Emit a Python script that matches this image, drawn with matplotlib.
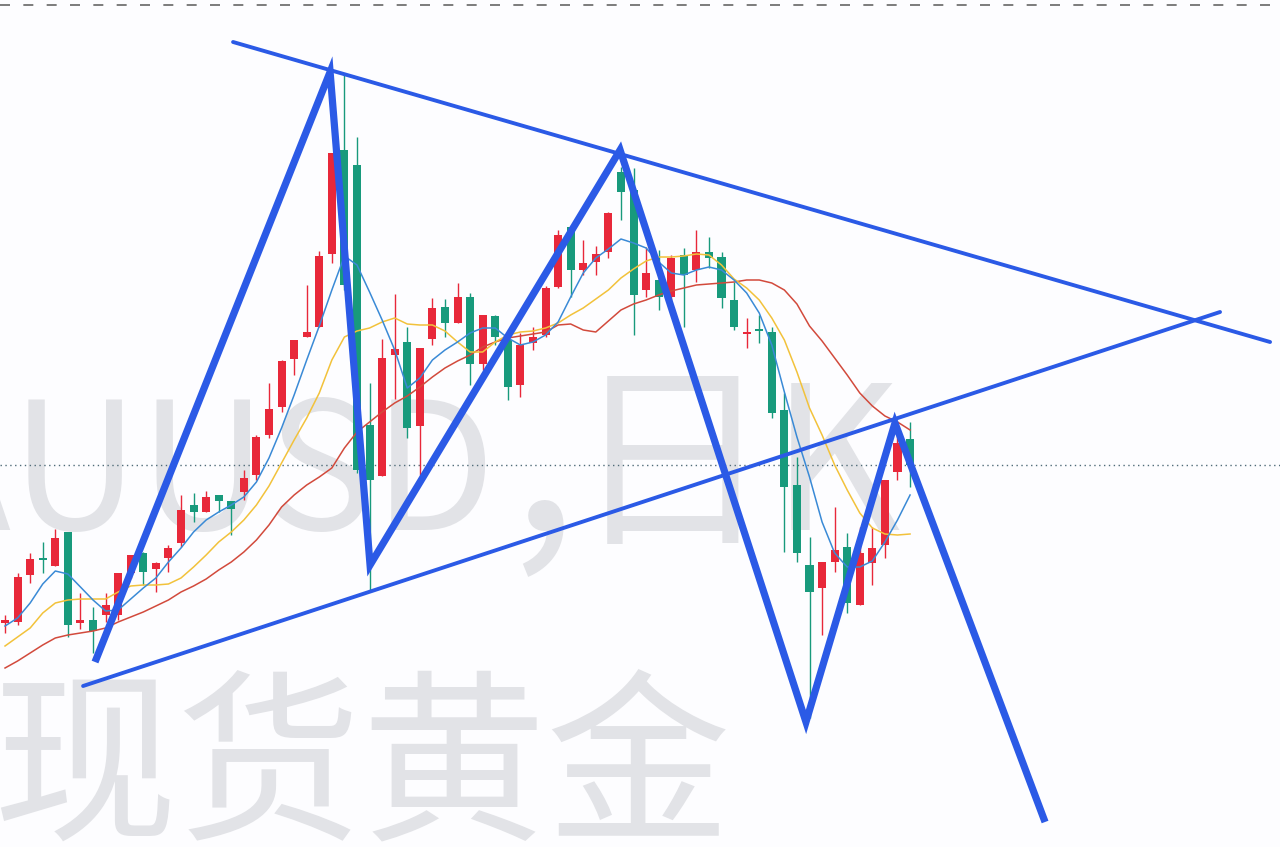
import matplotlib
matplotlib.use("Agg")
import matplotlib.pyplot as plt
import numpy as np

# ---------------- data (daily candles, price levels) ----------------
opens = [224, 225, 272, 289, 281, 315, 224, 227, 232, 232, 274, 294, 278, 289, 304, 342, 335, 352, 346, 355,
         372, 412, 440, 488, 510, 520, 593, 697, 682, 422, 371, 492, 505, 421, 508, 540, 524, 550, 483, 531,
         507, 462, 504, 512, 560, 620, 577, 585, 595, 675, 657, 557, 567, 550, 592, 577, 595, 590, 547, 513,
         518, 515, 437, 362, 282, 259, 285, 300, 242, 284, 302, 375, 408]
highs = [232, 274, 294, 305, 318, 315, 254, 240, 254, 274, 292, 295, 285, 302, 352, 354, 356, 352, 346, 377,
         412, 464, 487, 507, 562, 596, 694, 772, 710, 464, 508, 553, 520, 499, 549, 548, 564, 554, 532, 532,
         512, 514, 520, 561, 617, 622, 607, 601, 635, 680, 679, 600, 597, 592, 599, 617, 610, 595, 565, 529,
         532, 520, 454, 390, 310, 285, 340, 314, 320, 320, 367, 425, 425]
lows = [214, 222, 264, 274, 281, 210, 218, 194, 225, 227, 269, 262, 255, 275, 300, 325, 335, 335, 312, 347,
        367, 409, 435, 472, 510, 520, 584, 557, 374, 257, 371, 448, 409, 372, 502, 510, 524, 462, 477, 502,
        447, 450, 497, 510, 559, 550, 572, 572, 589, 627, 512, 550, 537, 547, 520, 565, 579, 539, 517, 499,
        504, 429, 295, 285, 129, 212, 275, 234, 242, 262, 289, 367, 360]
closes = [227, 270, 288, 287, 309, 222, 227, 216, 242, 274, 292, 275, 284, 299, 337, 335, 350, 346, 338, 369,
          410, 438, 486, 507, 515, 591, 694, 562, 377, 367, 489, 498, 419, 499, 539, 524, 550, 483, 532, 510,
          460, 502, 510, 559, 612, 577, 584, 593, 634, 655, 552, 574, 550, 589, 572, 595, 589, 549, 520, 515,
          516, 434, 360, 294, 255, 285, 297, 244, 294, 299, 367, 404, 382]

# moving averages (short / medium / long)
ma_short = [221, 229, 244, 263, 276, 273, 260, 247, 236, 237, 248, 259, 269, 285, 299, 315, 327, 335, 342, 350,
            365, 389, 419, 452, 487, 521, 557, 591, 582, 555, 527, 497, 459, 469, 487, 497, 505, 514, 519, 519,
            509, 502, 505, 512, 525, 550, 574, 589, 598, 608, 604, 599, 585, 574, 572, 577, 580, 577, 567, 554,
            534, 502, 455, 410, 370, 325, 294, 280, 280, 286, 305, 327, 352]
ma_mid = [201, 210, 219, 234, 244, 247, 248, 248, 248, 255, 261, 262, 262, 263, 269, 280, 292, 305, 315, 327,
          342, 361, 384, 407, 429, 454, 487, 510, 516, 519, 525, 529, 523, 522, 522, 516, 505, 495, 495, 505,
          512, 515, 516, 519, 524, 532, 539, 548, 557, 569, 578, 586, 590, 590, 591, 593, 592, 582, 568, 559,
          547, 529, 507, 475, 439, 412, 382, 357, 334, 319, 313, 312, 313]
ma_long = [179, 186, 194, 202, 209, 212, 214, 216, 219, 225, 230, 235, 241, 247, 255, 261, 268, 277, 285, 295,
           307, 322, 340, 352, 362, 370, 379, 399, 415, 425, 435, 444, 451, 460, 470, 479, 486, 492, 500, 505,
           509, 511, 513, 515, 522, 523, 517, 515, 526, 537, 543, 547, 552, 556, 559, 562, 563, 564, 565, 567,
           567, 564, 557, 543, 521, 506, 489, 472, 454, 441, 431, 425, 417]

# hand-drawn analysis lines (bar index, price)
zigzag_idx = [7.16, 25.86, 29.04, 48.93, 63.72, 70.80, 82.74]
zigzag_price = [185, 775, 282, 697, 125, 424, 25]
upper_idx = [18.14, 100.64]
upper_price = [805, 505]
lower_idx = [6.21, 96.66]
lower_price = [161, 535]
last_price_level = 382
frame_level = 842

watermark_symbol = "XAUUSD"
watermark_sep = ","
watermark_period = "日K"
watermark_bottom = "现货黄金"

# ---------------- styling ----------------
UP = "#e8283a"
DOWN = "#189a7c"
BLUE = "#2b5ae6"
WM = "#e2e3e7"
WM_FONT = ["Noto Sans CJK SC", "DejaVu Sans"]

fig = plt.figure(figsize=(12.8, 8.47), dpi=100, facecolor="#fdfdff")
ax = fig.add_axes([0, 0, 1, 1])
ax.set_xlim(-0.4, 101.43)
ax.set_ylim(0, 847)
ax.axis("off")
ax.patch.set_visible(False)

# watermark
ax.text(0.388, 0.374, watermark_symbol, transform=fig.transFigure, ha="right", va="baseline",
        fontsize=128, color=WM, family=WM_FONT, zorder=0.5)
ax.text(0.398, 0.374, watermark_sep, transform=fig.transFigure, ha="left", va="baseline",
        fontsize=175, color=WM, family=WM_FONT, zorder=0.5)
ax.text(0.447, 0.374, watermark_period, transform=fig.transFigure, ha="left", va="baseline",
        fontsize=144, color=WM, family=WM_FONT, zorder=0.5)
ax.text(-0.006, 0.025, watermark_bottom, transform=fig.transFigure, ha="left", va="baseline",
        fontsize=133, color=WM, family=WM_FONT, zorder=0.5)

# reference lines
ax.axhline(last_price_level, color="#4f6b78", lw=1.0, ls=(0, (1, 2.5)), zorder=2)
ax.axhline(frame_level, color="#666666", lw=1.2, ls=(0, (6, 8)), zorder=2)

# candles
x = np.arange(len(opens))
o = np.array(opens, float)
c = np.array(closes, float)
h = np.array(highs, float)
l = np.array(lows, float)
cols = [UP if cc >= oo else DOWN for oo, cc in zip(o, c)]
ax.vlines(x, l, h, colors=cols, lw=1.0, zorder=3)
bottom = np.minimum(o, c)
height = np.abs(c - o)
small = height < 2.5
bottom = np.where(small, (o + c) / 2 - 1.25, bottom)
height = np.where(small, 2.5, height)
ax.bar(x, height, bottom=bottom, width=0.64, color=cols, zorder=4, linewidth=0)

# moving averages
ax.plot(x, ma_long, color="#d24a3c", lw=1.1, zorder=5)
ax.plot(x, ma_mid, color="#f2c23b", lw=1.1, zorder=5)
ax.plot(x, ma_short, color="#3a8ad6", lw=1.1, zorder=5)

# analysis lines
ax.plot(upper_idx, upper_price, color=BLUE, lw=2.8, solid_capstyle="round", zorder=6)
ax.plot(lower_idx, lower_price, color=BLUE, lw=2.8, solid_capstyle="round", zorder=6)
ax.plot(zigzag_idx, zigzag_price, color=BLUE, lw=5.2, solid_capstyle="butt",
        solid_joinstyle="miter", zorder=7)

fig.savefig("out.png", dpi=100, facecolor=fig.get_facecolor())
